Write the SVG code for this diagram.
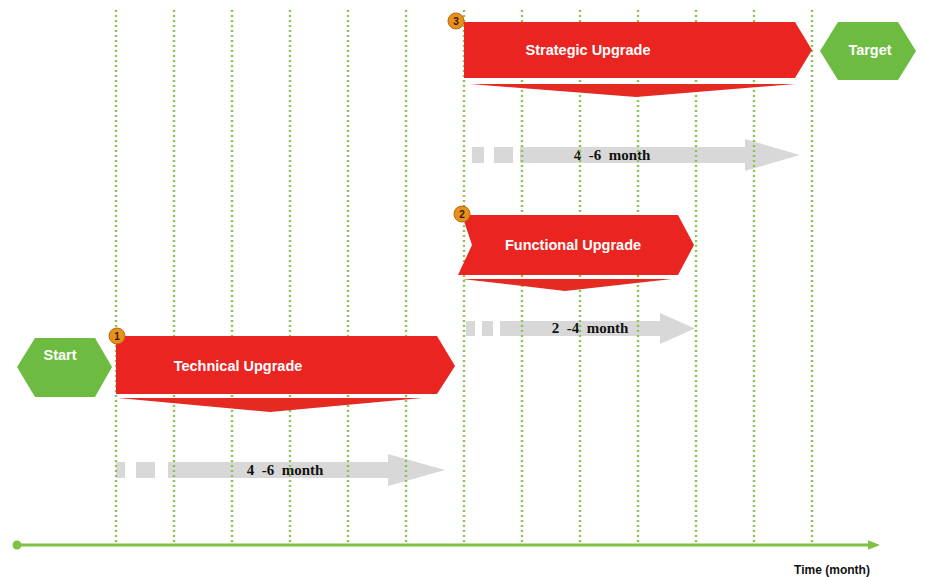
<svg xmlns="http://www.w3.org/2000/svg" width="925" height="577" viewBox="0 0 925 577">
<defs>
<style>
.grid line{stroke:#8dc24e;stroke-width:2.4;stroke-dasharray:2 3}
.red{fill:#ea2420}
.rib{fill:#e52a22}
.gray{fill:#d8d8d8}
.hex{fill:#6dbb40}
.wt{font-family:"Liberation Sans",Arial,sans-serif;font-weight:bold;fill:#fff;font-size:14.5px}
.bt{font-family:"Liberation Serif","Times New Roman",serif;font-weight:bold;fill:#111;font-size:15px}
.badge{fill:#e8901c;stroke:#b86a10;stroke-width:1}
.bn{font-family:"Liberation Sans",Arial,sans-serif;font-weight:bold;fill:#3a1a00;font-size:10px;text-anchor:middle}
</style>
<marker id="ah" viewBox="0 0 10 10" refX="5" refY="5" markerWidth="4" markerHeight="4" orient="auto"><path d="M0,1 L10,5 L0,9 z" fill="#7dc243"/></marker>
</defs>
<rect width="925" height="577" fill="#fff"/>
<g id="durations">
<g id="dur3">
<rect class="gray" x="472" y="147" width="12" height="16"/>
<rect class="gray" x="494" y="147" width="19" height="16"/>
<path class="gray" d="M520,147 H745 V139 L800,155 L745,171 V163 H520 z"/>
<text class="bt" x="612" y="160" text-anchor="middle" xml:space="preserve">4  -6  month</text>
</g>
<g id="dur2">
<rect class="gray" x="466" y="321" width="9" height="15"/>
<rect class="gray" x="482" y="321" width="11" height="15"/>
<path class="gray" d="M500,321 H660 V313 L695,328.5 L660,344 V336 H500 z"/>
<text class="bt" x="590" y="333" text-anchor="middle" xml:space="preserve">2  -4  month</text>
</g>
<g id="dur1">
<rect class="gray" x="116" y="462" width="9" height="16"/>
<rect class="gray" x="136" y="462" width="19" height="16"/>
<path class="gray" d="M168,462 H388 V454 L445,470 L388,486 V478 H168 z"/>
<text class="bt" x="285" y="475" text-anchor="middle" xml:space="preserve">4  -6  month</text>
</g>
</g>
<g class="grid" id="grid">
<line x1="116" y1="10" x2="116" y2="545"/>
<line x1="174" y1="10" x2="174" y2="545"/>
<line x1="232" y1="10" x2="232" y2="545"/>
<line x1="290" y1="10" x2="290" y2="545"/>
<line x1="348" y1="10" x2="348" y2="545"/>
<line x1="406" y1="10" x2="406" y2="545"/>
<line x1="464" y1="10" x2="464" y2="545"/>
<line x1="522" y1="10" x2="522" y2="545"/>
<line x1="580" y1="10" x2="580" y2="545"/>
<line x1="638" y1="10" x2="638" y2="545"/>
<line x1="696" y1="10" x2="696" y2="545"/>
<line x1="754" y1="10" x2="754" y2="545"/>
<line x1="812" y1="10" x2="812" y2="545"/>
</g>
<g id="connectors">
<line x1="17" y1="545" x2="874" y2="545" stroke="#7dc243" stroke-width="3" marker-end="url(#ah)"/>
<circle cx="17" cy="545" r="4.5" fill="#7dc243"/>
</g>
<g id="start">
<path class="hex" d="M17,367 L35,338 H95 L112,367 L95,397 H35 z"/>
<text class="wt" x="60" y="360" text-anchor="middle">Start</text>
</g>
<g id="target">
<path class="hex" d="M820,51 L838,22 H898 L916,51 L898,80 H838 z"/>
<text class="wt" x="870" y="55" text-anchor="middle">Target</text>
</g>
<g id="technical">
<path class="red" d="M116,336 H437 L455,366 L437,394 H116 z"/>
<path class="rib" d="M118,398 H422 L270,412 z"/>
<text class="wt" x="238" y="371" text-anchor="middle">Technical Upgrade</text>
<circle class="badge" cx="117" cy="336" r="8"/>
<text class="bn" x="117" y="340">1</text>
</g>
<g id="functional">
<path class="red" d="M462,215 H678 L694,245 L678,275 H458 L472,245 z"/>
<path class="rib" d="M462,279 H672 L565,291 z"/>
<text class="wt" x="573" y="250" text-anchor="middle">Functional Upgrade</text>
<circle class="badge" cx="462" cy="214" r="8"/>
<text class="bn" x="462" y="218">2</text>
</g>
<g id="strategic">
<path class="red" d="M464,22 H795 L812,50 L795,78 H464 z"/>
<path class="rib" d="M470,84 H795 L636,97 z"/>
<text class="wt" x="588" y="55" text-anchor="middle">Strategic Upgrade</text>
<circle class="badge" cx="456" cy="21" r="8"/>
<text class="bn" x="456" y="25">3</text>
</g>
<text x="832" y="574" text-anchor="middle" font-family="Liberation Sans Narrow,Liberation Sans,Arial,sans-serif" font-weight="bold" font-size="12" fill="#111">Time (month)</text>
</svg>
